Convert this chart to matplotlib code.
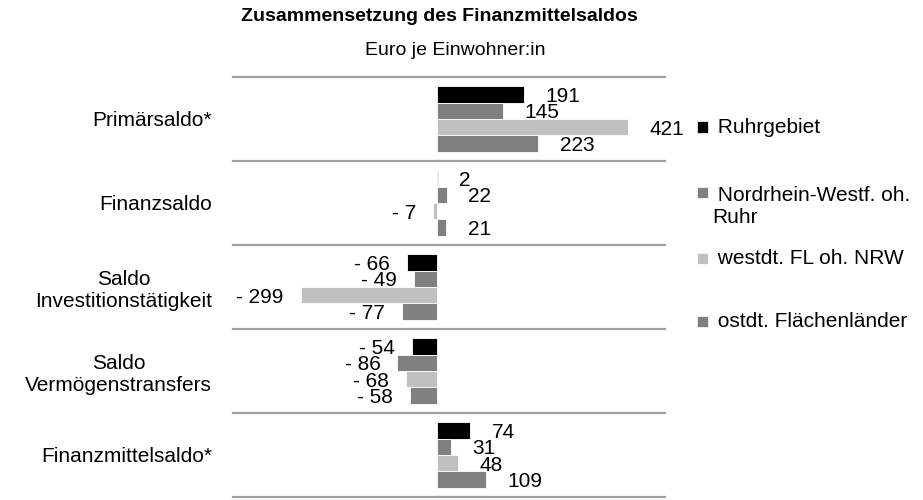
import matplotlib
matplotlib.use("Agg")
import matplotlib.pyplot as plt
from matplotlib.patches import Rectangle
import numpy as np

plt.rcParams['font.family'] = ['Liberation Sans', 'DejaVu Sans']

categories = ["Primärsaldo*", "Finanzsaldo", "Saldo\nInvestitionstätigkeit",
              "Saldo\nVermögenstransfers", "Finanzmittelsaldo*"]
series_names = ["Ruhrgebiet", "Nordrhein-Westf. oh.\nRuhr", "westdt. FL oh. NRW",
                "ostdt. Flächenländer"]
ruhr = [191, 2, -66, -54, 74]
nrw = [145, 22, -49, -86, 31]
westdt = [421, -7, -299, -68, 48]
ostdt = [223, 21, -77, -58, 109]
series_values = [ruhr, nrw, westdt, ostdt]
colors = ["#000000", "#808080", "#c0c0c0", "#808080"]

title = "Zusammensetzung des Finanzmittelsaldos"
subtitle = "Euro je Einwohner:in"

W, H = 923, 500
fig = plt.figure(figsize=(W / 100, H / 100), dpi=100)
ax_left, ax_right, ax_top, ax_bottom = 233, 665, 77, 497
ax = fig.add_axes([ax_left / W, 1 - ax_bottom / H,
                   (ax_right - ax_left) / W, (ax_bottom - ax_top) / H])

fs = 15
bar_h = 0.196
y = np.arange(len(categories))
for i, (vals, c) in enumerate(zip(series_values, colors)):
    pos = y + (i - 1.5) * bar_h
    ax.barh(pos, vals, height=bar_h, color=c, edgecolor='white', linewidth=0.6)
    for p, v in zip(pos, vals):
        if v >= 0:
            ax.annotate(f"{v}", (v, p), xytext=(15.5, 0), textcoords='offset points',
                        ha='left', va='center_baseline', fontsize=fs)
        else:
            ax.annotate(f"- {abs(v)}", (v, p), xytext=(-12.2, 0), textcoords='offset points',
                        ha='right', va='center_baseline', fontsize=fs)

ax.set_xlim(-447.5, 502)
ax.set_ylim(len(categories) - 0.5, -0.5)
for b in np.arange(len(categories) + 1) - 0.5:
    ax.axhline(b, color='#a0a0a0', linewidth=1.6, clip_on=False)

ax.set_yticks(y)
ax.set_yticklabels(categories, fontsize=fs)
for lbl in ax.get_yticklabels():
    lbl.set_multialignment('center')
ax.tick_params(axis='y', length=0, pad=15)
ax.set_xticks([])
for s in ax.spines.values():
    s.set_visible(False)

fig.text(241 / W, 1 - 21 / H, title, ha='left', va='baseline', fontsize=14,
         fontweight='bold')
fig.text(455 / W, 1 - 55 / H, subtitle, ha='center', va='baseline', fontsize=14)

# legend
line_px = 1.2 * fs * 100 / 72
leg_y = [127, 192, 258, 321]
for name, c, ly in zip(series_names, colors, leg_y):
    fig.patches.append(Rectangle((697 / W, 1 - (ly + 5.5) / H), 11 / W, 11 / H,
                                 transform=fig.transFigure, facecolor=c,
                                 edgecolor='white', linewidth=0.5))
    extra = name.count("\n") * line_px
    fig.text(712 / W, 1 - (ly + 6 + extra) / H, " " + name, ha='left', va='baseline',
             fontsize=fs, linespacing=1.2)

fig.savefig("out.png", dpi=100)
